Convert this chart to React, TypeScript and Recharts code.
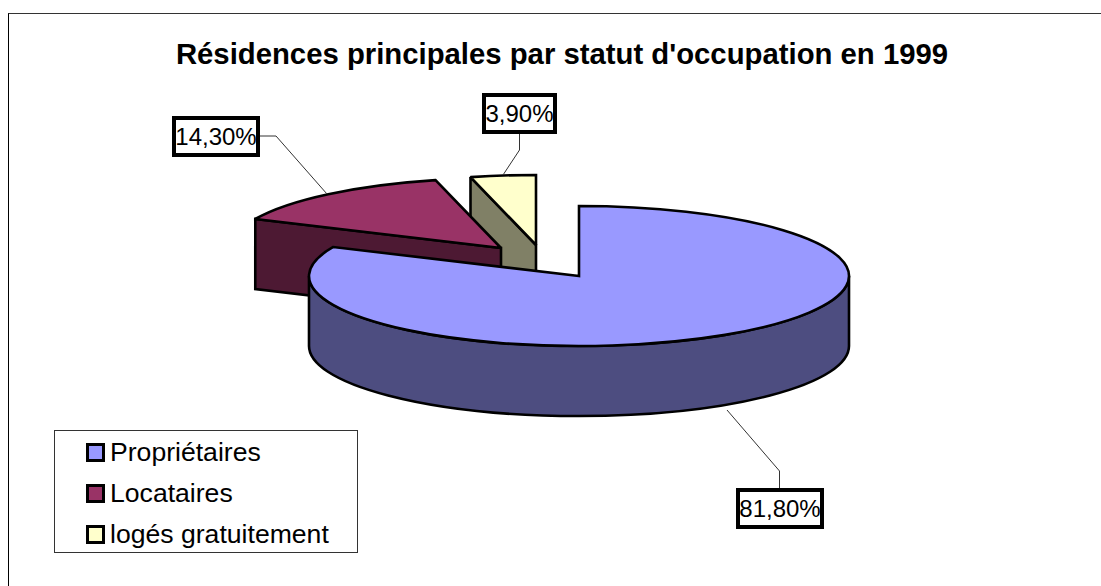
import { PieChart, Pie, Legend } from 'recharts'

const categories = ['Propriétaires', 'Locataires', 'logés gratuitement']
const shares = [81.8, 14.3, 3.9]
const valueLabels = ['81,80%', '14,30%', '3,90%']
const topColors = ['#9999FF', '#993366', '#FFFFCC']
const wallColors = ['#4D4D80', '#4D1933', '#808066']

// how far each slice is pulled out of the pie, and where its callout sits
const pullOut = [[0, 0], [-78, -28], [-43, -31]]
const callouts = [
  { box: [738, 490, 84, 37], line: '727,410 779.5,471 779.5,490' },
  { box: [174, 118, 84, 37], line: '258,136 276,136 327,194' },
  { box: [484, 95, 71, 37], line: '519.5,132 519.5,150 503,175' },
]

const SQUASH = 70 / 270
const DEPTH = 70

// drawn back to front, so the pie walks the slices counter-clockwise from the top
const rows = categories
  .map((name, i) => ({ name, value: shares[i], fill: topColors[i] }))
  .reverse()

function Slice(props: any) {
  const { cx, cy, outerRadius: r, startAngle, endAngle } = props
  const idx = categories.indexOf(props.name ?? props.payload?.name)
  const [dx, dy] = pullOut[idx]
  const ry = r * SQUASH
  const x0 = cx + dx
  const y0 = cy + dy
  const pt = (deg: number, down = 0) => {
    const a = (deg * Math.PI) / 180
    return `${x0 + r * Math.cos(a)} ${y0 - ry * Math.sin(a) + down}`
  }
  const large = endAngle - startAngle > 180 ? 1 : 0
  const top = `M${x0} ${y0} L${pt(startAngle)} A${r} ${ry} 0 ${large} 0 ${pt(endAngle)} Z`

  const endNorm = endAngle % 360
  const showCut = endNorm > 90 && endNorm < 270
  const cut = `M${x0} ${y0} L${pt(endAngle)} L${pt(endAngle, DEPTH)} L${x0} ${y0 + DEPTH} Z`

  // front wall is whatever part of the slice lies on the lower half of the ellipse
  const from = Math.max(startAngle, 180)
  const to = Math.min(endAngle, 360)
  const wall =
    to > from
      ? `M${pt(from)} A${r} ${ry} 0 0 0 ${pt(to)} L${pt(to, DEPTH)} A${r} ${ry} 0 0 1 ${pt(from, DEPTH)} Z`
      : null

  const strokeProps = {
    stroke: '#000',
    strokeWidth: 2.6,
    strokeLinejoin: 'miter' as const,
    strokeMiterlimit: 2,
  }
  return (
    <g>
      {showCut && <path d={cut} fill={wallColors[idx]} {...strokeProps} />}
      {wall && <path d={wall} fill={wallColors[idx]} {...strokeProps} />}
      <path d={top} fill={topColors[idx]} {...strokeProps} />
    </g>
  )
}

function Callout(props: any) {
  const idx = categories.indexOf(props.name ?? props.payload?.name)
  const { box, line } = callouts[idx]
  const [x, y, w, h] = box
  return (
    <g>
      <polyline points={line} fill="none" stroke="#333" strokeWidth={1} />
      <rect x={x} y={y} width={w} height={h} fill="#fff" stroke="#000" strokeWidth={4} />
      <text
        x={x + w / 2}
        y={y + h / 2 + 8.5}
        textAnchor="middle"
        fontFamily="Liberation Sans"
        fontSize={24}
        fill="#000"
      >
        {valueLabels[idx]}
      </text>
    </g>
  )
}

function LegendBox({ payload }: any) {
  const items = [...(payload ?? [])].sort(
    (a: any, b: any) => categories.indexOf(a.value) - categories.indexOf(b.value),
  )
  return (
    <div
      style={{
        width: 304,
        height: 123,
        boxSizing: 'border-box',
        border: '1px solid #333',
        background: '#fff',
        paddingTop: 1,
      }}
    >
      {items.map((item: any) => (
        <div
          key={item.value}
          style={{
            display: 'flex',
            alignItems: 'center',
            height: 41,
            paddingLeft: 31,
            fontFamily: 'Liberation Sans',
            fontSize: 26.6,
            color: '#000',
            whiteSpace: 'nowrap',
          }}
        >
          <span
            style={{
              width: 19,
              height: 19,
              boxSizing: 'border-box',
              border: '3px solid #000',
              background: item.color,
              marginRight: 5,
            }}
          />
          {item.value}
        </div>
      ))}
    </div>
  )
}

export default function App() {
  return (
    <div style={{ position: 'absolute', left: 0, top: 0, width: 1101, height: 586, background: '#fff' }}>
      <div
        style={{
          position: 'absolute',
          left: 8,
          top: 13,
          width: 1093,
          height: 573,
          boxSizing: 'border-box',
          borderLeft: '1px solid #000',
          borderTop: '1px solid #333',
        }}
      />
      <div
        style={{
          position: 'absolute',
          left: 0,
          top: 37,
          width: 1124,
          textAlign: 'center',
          fontFamily: 'Liberation Sans',
          fontWeight: 'bold',
          fontSize: 29.3,
          color: '#000',
          whiteSpace: 'nowrap',
        }}
      >
        Résidences principales par statut d'occupation en 1999
      </div>
      <div style={{ position: 'absolute', left: 0, top: 0 }}>
        <PieChart width={1101} height={586} margin={{ top: 0, right: 0, bottom: 0, left: 0 }}>
          <Pie
            data={rows}
            dataKey="value"
            nameKey="name"
            cx={579}
            cy={276}
            outerRadius={270}
            startAngle={90}
            endAngle={450}
            shape={Slice}
            label={Callout}
            labelLine={false}
            stroke="none"
            isAnimationActive={false}
          />
          <Legend
            layout="vertical"
            align="center"
            verticalAlign="middle"
            content={LegendBox}
            wrapperStyle={{ left: 54, top: 430, width: 304, height: 123 }}
          />
        </PieChart>
      </div>
    </div>
  )
}
